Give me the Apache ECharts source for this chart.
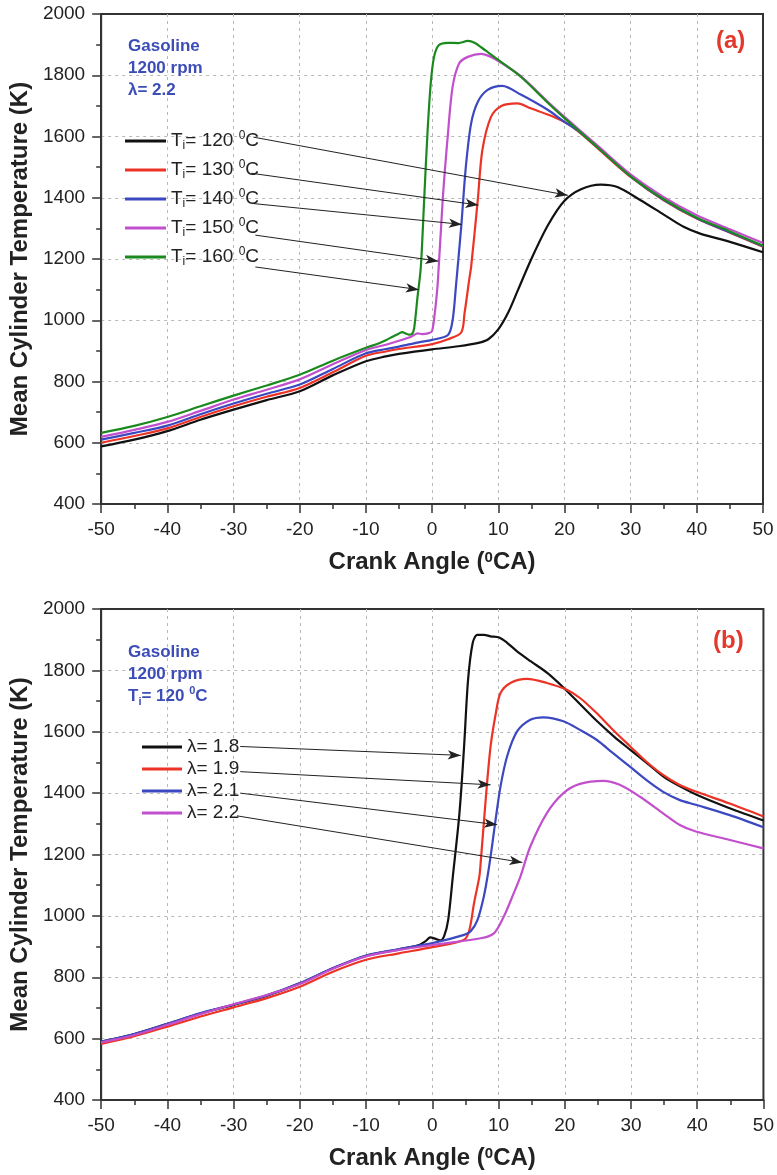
<!DOCTYPE html>
<html><head><meta charset="utf-8">
<script src="https://cdn.jsdelivr.net/npm/echarts@6/dist/echarts.min.js"></script>
<style>html,body{margin:0;padding:0;background:#fff}#c{width:777px;height:1175px}</style>
</head><body><div id="c"></div>
<script>
// ---------- data ----------
const tiLabels = ['120', '130', '140', '150', '160'];
const lambdaLabels = ['1.8', '1.9', '2.1', '2.2'];

// Panel (a): lambda = 2.2, various intake temperatures  [crank angle, K]
const a120 = [[-50,588],[-45,610],[-40,638],[-35,675],[-30,708],[-25,739],[-20,768],[-15,820],[-10,866],[-7,882],[-5,890],[0,905],[4,915],[7,926],[8.5,938],[10,970],[11.5,1025],[13,1100],[15,1200],[17.5,1310],[20,1390],[22.5,1428],[25.5,1443],[28,1435],[31.5,1392],[35,1345],[38,1305],[40.5,1283],[45,1256],[50,1222]];
const a130 = [[-50,600],[-45,622],[-40,647],[-35,684],[-30,719],[-25,750],[-20,779],[-15,830],[-10,884],[-7,898],[-5,906],[0,922],[2.4,938],[4.4,960],[4.9,1022],[5.6,1131],[5.9,1174],[6.9,1392],[7.6,1556],[8.9,1664],[10.4,1699],[12.9,1708],[14.9,1692],[18.4,1664],[20.4,1643],[22,1618],[25,1562],[30,1468],[35,1392],[40,1332],[45,1286],[50,1240]];
const a140 = [[-50,610],[-45,632],[-40,656],[-35,693],[-30,728],[-25,760],[-20,790],[-15,841],[-10,892],[-7,906],[-5,914],[-2,928],[0,936],[2.4,952],[3.1,1000],[3.6,1110],[4.4,1305],[5.1,1501],[5.9,1643],[6.9,1713],[8.4,1752],[10.6,1765],[13.4,1737],[17.4,1688],[20,1648],[22,1620],[25,1565],[30,1470],[35,1393],[40,1333],[45,1287],[50,1242]];
const a150 = [[-50,619],[-45,642],[-40,668],[-35,704],[-30,741],[-25,773],[-20,807],[-15,856],[-10,903],[-7,920],[-5,933],[-3,948],[-2.2,957],[-1.5,955],[-0.5,958],[0,965],[0.4,1022],[0.85,1120],[1.6,1392],[2.4,1610],[3.1,1762],[4.1,1839],[5.4,1860],[7.4,1870],[8.9,1860],[10.5,1840],[13.4,1797],[17.4,1715],[20,1664],[25,1570],[30,1476],[35,1402],[40,1343],[45,1297],[50,1252]];
const a160 = [[-50,632],[-45,655],[-40,684],[-35,719],[-30,754],[-25,787],[-20,822],[-15,868],[-10,910],[-8,925],[-7,935],[-6,946],[-5,957],[-4.5,961],[-4,957],[-3.5,953],[-3,956],[-2.7,975],[-2.2,1076],[-1.7,1174],[-1.2,1392],[-0.7,1610],[-0.2,1774],[0.3,1860],[1,1898],[2.4,1906],[4,1905],[5.4,1912],[6.4,1906],[8,1882],[10,1850],[13.4,1795],[17.4,1712],[20,1660],[25,1565],[30,1470],[35,1395],[40,1335],[45,1290],[50,1243]];

// Panel (b): Ti = 120 C, various lambda
const b18 = [[-50,590],[-45,615],[-40,648],[-35,682],[-30,710],[-25,740],[-20,780],[-15,829],[-10,870],[-5,891],[-2,905],[-1,918],[-0.3,930],[0.5,925],[1.2,920],[1.8,935],[2.4,987],[3.1,1128],[4.1,1335],[4.8,1552],[5.4,1769],[6.1,1889],[6.8,1916],[7.8,1916],[8.8,1911],[10.1,1907],[11.3,1890],[12.8,1862],[14.9,1829],[17.4,1791],[19.9,1742],[22.4,1688],[24.9,1634],[27.4,1585],[29.9,1541],[32.4,1498],[34.9,1454],[37.4,1422],[39.9,1395],[44.9,1351],[50,1311]];
const b19 = [[-50,583],[-45,608],[-40,639],[-35,672],[-30,702],[-25,732],[-20,769],[-15,818],[-10,857],[-5,878],[0,898],[4.8,922],[5.6,954],[6.3,1041],[7.1,1128],[7.3,1172],[8.1,1389],[8.8,1552],[9.6,1661],[10.3,1726],[11.8,1759],[14.3,1772],[17.3,1759],[20.3,1737],[22.3,1710],[24.8,1661],[27.3,1606],[29.9,1552],[32.3,1503],[34.8,1460],[37.3,1427],[39.8,1405],[44.8,1367],[50,1324]];
const b21 = [[-50,590],[-45,615],[-40,648],[-35,683],[-30,711],[-25,741],[-20,781],[-15,830],[-10,871],[-5,892],[0,911],[4.8,938],[5.8,950],[6.8,985],[7.8,1065],[8.5,1150],[9.1,1240],[9.6,1320],[10.3,1422],[11.3,1520],[12.8,1601],[14.8,1639],[16.8,1647],[19.8,1634],[22.3,1606],[24.8,1574],[27.3,1530],[29.8,1487],[32.3,1443],[34.8,1405],[37.3,1378],[39.8,1362],[44.8,1329],[50,1289]];
const b22 = [[-50,588],[-45,612],[-40,645],[-35,680],[-30,712],[-25,742],[-20,778],[-15,828],[-10,868],[-5,889],[0,905],[7.3,927],[9.3,943],[10.8,998],[12.3,1074],[13.3,1128],[14.8,1226],[17.3,1335],[19.8,1400],[22.3,1430],[25.8,1440],[28.3,1427],[31.3,1389],[34.8,1335],[37.3,1297],[39.8,1275],[44.8,1248],[50,1220]];

// Arrow annotations (legend label -> curve), in data units
const arrowsA = [[[-27,1598],[20.5,1408]],[[-27.3,1480],[7.0,1376]],[[-27,1381],[4.5,1313]],[[-26.7,1278],[0.95,1193]],[[-26.7,1174],[-2.0,1100]]];
const arrowsB = [[[-29,1552],[4.3,1523]],[[-29,1470],[8.8,1427]],[[-29,1400],[9.8,1297]],[[-29.5,1326],[13.6,1174]]];

const colorsA = ['#111111', '#ec3325', '#3b48c0', '#c24fcb', '#1b8a1e'];
const colorsB = ['#111111', '#ec3325', '#3b48c0', '#c24fcb'];

// ---------- chart ----------
const FF = '"Liberation Sans", Arial, Helvetica, sans-serif';
const chart = echarts.init(document.getElementById('c'));

function mk(name, data, color, idx, arrow) {
  return {
    name, type: 'line', xAxisIndex: idx, yAxisIndex: idx, data,
    showSymbol: false, smooth: 0.3,
    lineStyle: { color, width: 2.2 }, itemStyle: { color },
    emphasis: { disabled: true },
    markLine: {
      silent: true, symbol: ['none', 'arrow'], symbolSize: [7, 13],
      label: { show: false }, emphasis: { disabled: true },
      lineStyle: { color: '#222', width: 1, type: 'solid' },
      data: [[{ coord: arrow[0] }, { coord: arrow[1] }]]
    }
  };
}

const namesA = tiLabels.map(t => 'a' + t);
const namesB = lambdaLabels.map(l => 'b' + l);
const series = [];
[a120, a130, a140, a150, a160].forEach((d, i) => series.push(mk(namesA[i], d, colorsA[i], 0, arrowsA[i])));
[b18, b19, b21, b22].forEach((d, i) => series.push(mk(namesB[i], d, colorsB[i], 1, arrowsB[i])));

const richSS = {
  sub: { fontSize: 12, verticalAlign: 'bottom', lineHeight: 22, fontFamily: FF, color: '#222' },
  sup: { fontSize: 12, verticalAlign: 'top', lineHeight: 12, fontFamily: FF, color: '#222' }
};

const splitStyle = { show: true, showMinLine: false, showMaxLine: false, lineStyle: { type: [3, 4], color: '#b8b8b8', width: 1 } };

function xAx(gi) {
  return {
    gridIndex: gi, type: 'value', min: -50, max: 50, interval: 10,
    name: 'Crank Angle ({sup|0}CA)', nameLocation: 'middle', nameGap: 46,
    nameTextStyle: { fontSize: 24, fontWeight: 'bold', color: '#222', fontFamily: FF,
      rich: { sup: { fontSize: 15, fontWeight: 'bold', verticalAlign: 'top', lineHeight: 15, color: '#222', fontFamily: FF } } },
    axisLine: { show: true, onZero: false, lineStyle: { color: '#333', width: 2 } },
    axisTick: { show: true, length: 9, lineStyle: { color: '#333', width: 1.5 } },
    minorTick: { show: true, splitNumber: 2, length: 5, lineStyle: { color: '#333', width: 1.5 } },
    axisLabel: { fontSize: 19, color: '#222', margin: 16, fontFamily: FF, formatter: v => String(v) },
    splitLine: splitStyle
  };
}
function yAx(gi) {
  return {
    gridIndex: gi, type: 'value', min: 400, max: 2000, interval: 200,
    name: 'Mean Cylinder Temperature (K)', nameLocation: 'middle', nameGap: 68,
    nameTextStyle: { fontSize: 24, fontWeight: 'bold', color: '#222', fontFamily: FF },
    axisLine: { show: true, onZero: false, lineStyle: { color: '#333', width: 2 } },
    axisTick: { show: true, length: 9, lineStyle: { color: '#333', width: 1.5 } },
    minorTick: { show: true, splitNumber: 2, length: 5, lineStyle: { color: '#333', width: 1.5 } },
    axisLabel: { fontSize: 19, color: '#222', margin: 16, fontFamily: FF, formatter: v => String(v) },
    splitLine: splitStyle
  };
}

const annStyle = { fontSize: 17, fontWeight: 'bold', color: '#3d4db7', lineHeight: 22, fontFamily: FF };
const annRich = {
  sub: { fontSize: 11, fontWeight: 'bold', color: '#3d4db7', verticalAlign: 'bottom', lineHeight: 22, fontFamily: FF },
  sup: { fontSize: 11, fontWeight: 'bold', color: '#3d4db7', verticalAlign: 'top', lineHeight: 11, fontFamily: FF }
};

chart.setOption({
  animation: false,
  backgroundColor: '#fff',
  grid: [
    { left: 99, top: 14, width: 664, height: 490, show: true, borderColor: '#333', borderWidth: 2, backgroundColor: 'transparent' },
    { left: 99, top: 609, width: 665, height: 491, show: true, borderColor: '#333', borderWidth: 2, backgroundColor: 'transparent' }
  ],
  xAxis: [xAx(0), xAx(1)],
  yAxis: [yAx(0), yAx(1)],
  title: [
    { text: 'Gasoline\n1200 rpm\nλ= 2.2', left: 128, top: 35, padding: 0, textStyle: annStyle },
    { text: '(a)', left: 716, top: 29, padding: 0, textStyle: { fontSize: 24, fontWeight: 'bold', color: '#e3382c', fontFamily: FF } },
    { text: 'Gasoline\n1200 rpm\nT{sub|i}= 120 {sup|0}C', left: 128, top: 641, padding: 0, textStyle: Object.assign({ rich: annRich }, annStyle) },
    { text: '(b)', left: 713, top: 629, padding: 0, textStyle: { fontSize: 24, fontWeight: 'bold', color: '#e3382c', fontFamily: FF } }
  ],
  legend: [
    {
      data: namesA, orient: 'vertical', left: 125, top: 130, padding: 0, itemGap: 7,
      icon: 'rect', itemWidth: 41, itemHeight: 3, selectedMode: false,
      formatter: n => 'T{sub|i}= ' + tiLabels[namesA.indexOf(n)] + ' {sup|0}C',
      textStyle: { fontSize: 19, color: '#222', lineHeight: 22, fontFamily: FF, rich: richSS }
    },
    {
      data: namesB, orient: 'vertical', left: 142, top: 736, padding: 0, itemGap: 0,
      icon: 'rect', itemWidth: 40, itemHeight: 3, selectedMode: false,
      formatter: n => 'λ= ' + lambdaLabels[namesB.indexOf(n)],
      textStyle: { fontSize: 19, color: '#222', lineHeight: 22, fontFamily: FF }
    }
  ],
  series
});
</script>
</body></html>
